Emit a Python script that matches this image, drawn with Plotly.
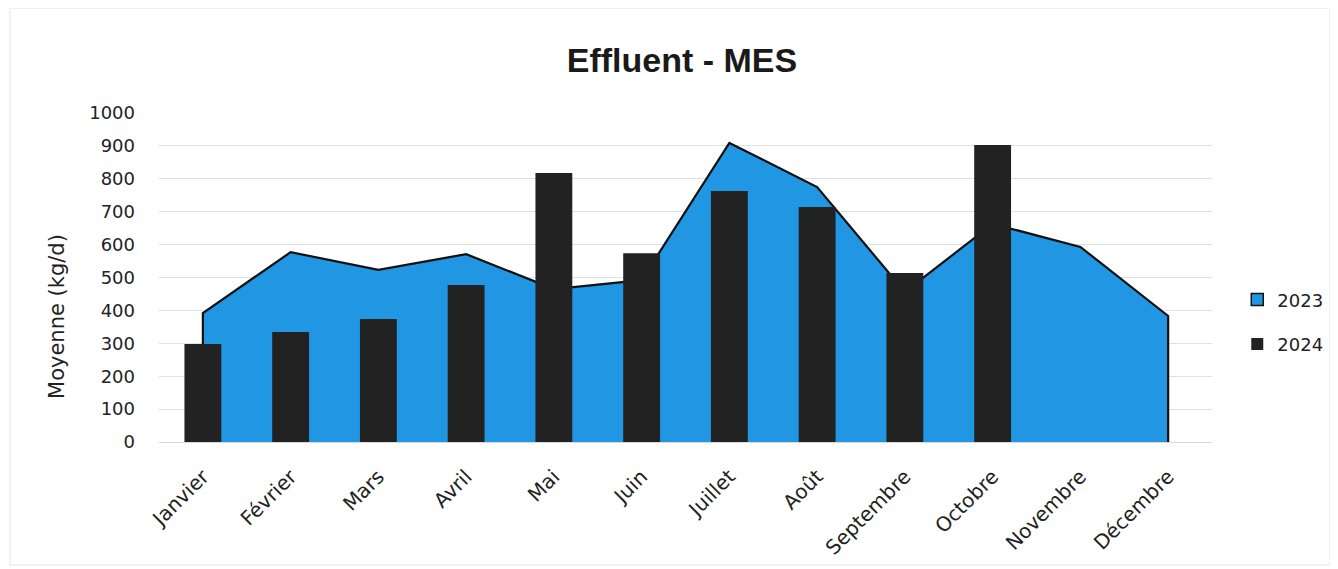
import plotly.graph_objects as go

months = ["Janvier", "Février", "Mars", "Avril", "Mai", "Juin", "Juillet",
          "Août", "Septembre", "Octobre", "Novembre", "Décembre"]
values_2023 = [392, 577, 523, 571, 465, 492, 909, 775, 456, 663, 593, 383]
months_2024 = ["Janvier", "Février", "Mars", "Avril", "Mai", "Juin", "Juillet",
               "Août", "Septembre", "Octobre"]
values_2024 = [298, 334, 374, 477, 818, 574, 763, 714, 514, 903]
y_ticks = [0, 100, 200, 300, 400, 500, 600, 700, 800, 900, 1000]

FONT = "DejaVu Sans"
BLUE = "#2196E3"
DARK = "#222222"

# closed polygon for the area (baseline -> values -> baseline)
area_x = [months[0]] + months + [months[-1]]
area_y = [0] + values_2023 + [0]

fig = go.Figure()
fig.add_trace(go.Scatter(
    x=area_x, y=area_y, name="2023", mode="lines", fill="toself",
    fillcolor=BLUE, line=dict(color="#111111", width=2.2),
    xaxis="x", yaxis="y", showlegend=False, hoverinfo="skip",
))
# legend entry for the area series (square swatch like the original)
fig.add_trace(go.Bar(
    x=[months[0]], y=[None], name="2023",
    marker=dict(color=BLUE, line=dict(color="#111111", width=1.5)),
    xaxis="x2", yaxis="y2", legendgroup="a",
))
fig.add_trace(go.Bar(
    x=months_2024, y=values_2024, name="2024", marker=dict(color=DARK, line=dict(width=0)),
    width=0.42, xaxis="x2", yaxis="y2", legendgroup="b",
))

fig.update_layout(
    width=1338, height=569,
    margin=dict(l=151, r=134, t=105, b=135),
    barmode="overlay",
    paper_bgcolor="white", plot_bgcolor="white",
    font=dict(family=FONT, size=18, color="#222222"),
    title=dict(text="<b>Effluent - MES</b>", x=0.5037, y=0.9086, xanchor="center",
               yanchor="middle", font=dict(family="Liberation Sans", size=34, color="#1a1a1a")),
    xaxis=dict(type="category", categoryorder="array", categoryarray=months,
               range=[-0.5, 11.5], tickangle=-45, showgrid=False, zeroline=False,
               showline=True, linecolor="#d9d9d9", linewidth=1,
               ticks="", ticklabelstandoff=14, tickfont=dict(size=20)),
    yaxis=dict(range=[0, 1000], tickvals=y_ticks, showgrid=True, gridcolor="#e0e0e0",
               gridwidth=1, zeroline=False, showline=False, ticks="",
               ticklabelstandoff=23, tickfont=dict(size=18)),
    xaxis2=dict(type="category", categoryorder="array", categoryarray=months,
                range=[-0.5, 11.5], overlaying="x", visible=False),
    yaxis2=dict(range=[0, 1000], overlaying="y", visible=False),
    legend=dict(x=1.024, y=0.365, xanchor="left", yanchor="middle",
                font=dict(size=18), tracegroupgap=18, itemwidth=30,
                bgcolor="rgba(0,0,0,0)"),
    showlegend=True,
    annotations=[dict(text="Moyenne (kg/d)", textangle=-90, xref="paper", yref="paper",
                      x=-0.0969, y=0.383, xanchor="center", yanchor="middle",
                      showarrow=False, font=dict(size=21, color="#222222"))],
    shapes=[dict(type="rect", xref="paper", yref="paper", x0=-0.1415, x1=1.112,
                 y0=-0.374, y1=1.319, line=dict(color="#e6e6e6", width=1),
                 fillcolor="rgba(0,0,0,0)", layer="below")],
)

fig.write_html("out.html")
